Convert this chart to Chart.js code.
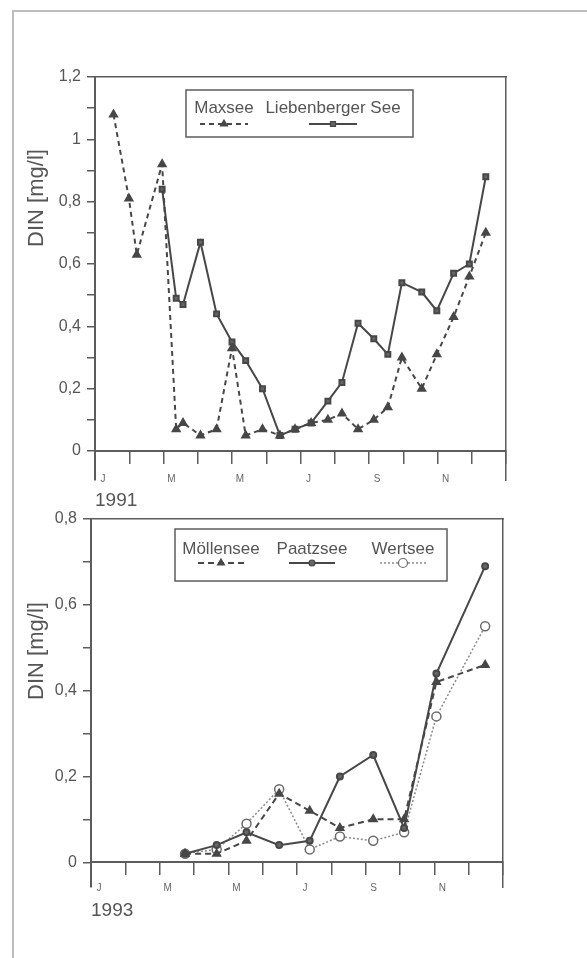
<!DOCTYPE html>
<html>
<head>
<meta charset="utf-8">
<script src="https://cdn.jsdelivr.net/npm/chart.js@4.4.1/dist/chart.umd.min.js"></script>
<style>
    body { margin: 0; background: #fff; }
    #page { position: relative; width: 587px; height: 958px; overflow: hidden; }
    #frame { position: absolute; left: 12px; top: 10px; width: 600px; height: 960px;
             border-top: 2px solid #bdbdbd; border-left: 2px solid #bdbdbd; }
    canvas { position: absolute; left: 0; }
    #chart1991 { top: 0; }
    #chart1993 { top: 500px; }
</style>
</head>
<body>
<div id="page">
    <div id="frame"></div>
    <canvas id="chart1991" width="587" height="520"></canvas>
    <canvas id="chart1993" width="587" height="430"></canvas>
</div>
<script>
// sampling dates as month position (0 = 1 Jan, 12 = 31 Dec)
const dates1991 = [0.54, 0.99, 1.22, 1.96, 2.37, 2.57, 3.08, 3.55, 4.0, 4.4, 4.89, 5.4, 5.84,
    6.31, 6.8, 7.21, 7.68, 8.14, 8.55, 8.96, 9.54, 9.98, 10.47, 10.93, 11.41];
const maxsee = [1.08, 0.81, 0.63, 0.92, 0.07, 0.09, 0.05, 0.07, 0.33, 0.05, 0.07, 0.05, 0.07,
    0.09, 0.10, 0.12, 0.07, 0.10, 0.14, 0.30, 0.20, 0.31, 0.43, 0.56, 0.70];
const liebenberger = [null, null, null, 0.84, 0.49, 0.47, 0.67, 0.44, 0.35, 0.29, 0.20, 0.05, 0.07,
    0.09, 0.16, 0.22, 0.41, 0.36, 0.31, 0.54, 0.51, 0.45, 0.57, 0.60, 0.88];

const dates1993 = [2.74, 3.66, 4.53, 5.48, 6.37, 7.25, 8.22, 9.12, 10.06, 11.48];
const moellensee = [0.02, 0.02, 0.05, 0.16, 0.12, 0.08, 0.10, 0.10, 0.42, 0.46];
const paatzsee = [0.02, 0.04, 0.07, 0.04, 0.05, 0.20, 0.25, 0.08, 0.44, 0.69];
const wertsee = [0.02, 0.03, 0.09, 0.17, 0.03, 0.06, 0.05, 0.07, 0.34, 0.55];

const monthTicks = [0, 1, 2, 3, 4, 5, 6, 7, 8, 9, 10, 11, 12];
const monthLabels = ['J', '', 'M', '', 'M', '', 'J', '', 'S', '', 'N', '', ''];

const yTicks1991 = [0, 0.1, 0.2, 0.3, 0.4, 0.5, 0.6, 0.7, 0.8, 0.9, 1.0, 1.1, 1.2];
const yLabels1991 = ['0', '', '0,2', '', '0,4', '', '0,6', '', '0,8', '', '1', '', '1,2'];
const yTicks1993 = [0, 0.1, 0.2, 0.3, 0.4, 0.5, 0.6, 0.7, 0.8];
const yLabels1993 = ['0', '', '0,2', '', '0,4', '', '0,6', '', '0,8'];

const ink = '#474747';
const axisInk = '#5c5c5c';
const textInk = '#555';

Chart.defaults.font.family = '"Liberation Sans", Arial, sans-serif';
Chart.defaults.color = textInk;

function toPoints(xs, ys) {
    return xs.map((x, i) => ({ x: x, y: ys[i] }));
}

// legend with the name on top and the line sample underneath
const stackedLegend = {
    id: 'stackedLegend',
    afterDraw(chart, args, opts) {
        const ctx = chart.ctx;
        ctx.save();
        ctx.strokeStyle = axisInk;
        ctx.lineWidth = 1.5;
        ctx.strokeRect(opts.box[0], opts.box[1], opts.box[2], opts.box[3]);
        ctx.font = '17px "Liberation Sans", Arial, sans-serif';
        ctx.textAlign = 'center';
        ctx.textBaseline = 'middle';
        chart.data.datasets.forEach((ds, i) => {
            const cx = opts.centers[i];
            ctx.fillStyle = textInk;
            ctx.fillText(ds.label, cx, opts.textY);
            ctx.strokeStyle = ds.borderColor;
            ctx.lineWidth = ds.borderWidth;
            ctx.setLineDash(ds.borderDash || []);
            ctx.beginPath();
            ctx.moveTo(cx - opts.half, opts.lineY);
            ctx.lineTo(cx + opts.half, opts.lineY);
            ctx.stroke();
            ctx.setLineDash([]);
            ctx.fillStyle = ds.pointBackgroundColor;
            ctx.strokeStyle = ds.pointBorderColor;
            ctx.lineWidth = 1.2;
            Chart.helpers.drawPoint(ctx, {
                pointStyle: ds.pointStyle, radius: ds.pointRadius, rotation: 0, borderWidth: 1.2
            }, cx, opts.lineY);
        });
        ctx.restore();
    }
};

// rotated axis caption
const axisCaption = {
    id: 'axisCaption',
    afterDraw(chart, args, opts) {
        const ctx = chart.ctx;
        ctx.save();
        ctx.translate(opts.x, opts.y);
        ctx.rotate(-Math.PI / 2);
        ctx.font = '22px "Liberation Sans", Arial, sans-serif';
        ctx.fillStyle = textInk;
        ctx.textAlign = 'center';
        ctx.textBaseline = 'middle';
        ctx.fillText(opts.text, 0, 0);
        ctx.restore();
    }
};

function buildScales(yMin, yMax, yTicks, yLabels, axisWidth, year, titlePad, labelPad) {
    return {
        x: {
            type: 'linear', axis: 'x', min: 0, max: 12, position: { y: 0 },
            afterBuildTicks: s => { s.ticks = monthTicks.map(v => ({ value: v })); },
            ticks: {
                autoSkip: false, maxRotation: 0, labelOffset: 8, padding: labelPad,
                font: { size: 10 }, color: '#666',
                callback: (v, i) => monthLabels[i]
            },
            grid: { drawOnChartArea: false, tickLength: 12, color: axisInk, lineWidth: 1.5 },
            border: { color: axisInk, width: 2 },
            title: {
                display: true, text: year, align: 'start', color: textInk,
                font: { size: 19, lineHeight: 0.6 }, padding: { top: titlePad, bottom: 0 }
            }
        },
        x2: {
            type: 'linear', axis: 'x', position: 'top', min: 0, max: 12, display: true,
            afterFit: s => { s.height = 0; },
            ticks: { display: false },
            grid: { display: false, drawTicks: false },
            border: { color: axisInk, width: 1.5 }
        },
        y: {
            type: 'linear', min: yMin, max: yMax,
            afterBuildTicks: s => { s.ticks = yTicks.map(v => ({ value: v })); },
            afterFit: s => { s.width = axisWidth; },
            ticks: {
                padding: 6, font: { size: 16 }, color: textInk,
                callback: (v, i) => yLabels[i]
            },
            grid: { drawOnChartArea: false, tickLength: 8, color: axisInk, lineWidth: 1.5 },
            border: { color: axisInk, width: 2 }
        },
        y2: {
            type: 'linear', axis: 'y', position: 'right', min: yMin, max: yMax, display: true,
            afterFit: s => { s.width = 0; },
            ticks: { display: false },
            grid: { display: false, drawTicks: false },
            border: { color: axisInk, width: 1.5 }
        }
    };
}

new Chart(document.getElementById('chart1991'), {
    type: 'line',
    data: {
        datasets: [{
            label: 'Maxsee',
            data: toPoints(dates1991, maxsee),
            borderColor: ink,
            borderWidth: 2,
            borderDash: [5, 4],
            pointStyle: 'triangle',
            pointRadius: 4,
            pointBackgroundColor: ink,
            pointBorderColor: ink
        }, {
            label: 'Liebenberger See',
            data: toPoints(dates1991, liebenberger),
            borderColor: ink,
            borderWidth: 2,
            pointStyle: 'rect',
            pointRadius: 3.5,
            pointBackgroundColor: '#666',
            pointBorderColor: ink
        }]
    },
    options: {
        responsive: false,
        animation: false,
        events: [],
        layout: { padding: { left: 0, right: 81, top: 77, bottom: 40 } },
        scales: buildScales(-0.0931, 1.2, yTicks1991, yLabels1991, 95, '1991', 0, 10),
        plugins: {
            legend: { display: false },
            tooltip: { enabled: false },
            stackedLegend: { box: [186, 90, 227, 47], centers: [224, 333], textY: 108, lineY: 124, half: 24 },
            axisCaption: { text: 'DIN [mg/l]', x: 37, y: 198 }
        }
    },
    plugins: [stackedLegend, axisCaption]
});

new Chart(document.getElementById('chart1993'), {
    type: 'line',
    data: {
        datasets: [{
            label: 'Möllensee',
            data: toPoints(dates1993, moellensee),
            borderColor: ink,
            borderWidth: 2,
            borderDash: [6, 4],
            pointStyle: 'triangle',
            pointRadius: 4,
            pointBackgroundColor: ink,
            pointBorderColor: ink
        }, {
            label: 'Paatzsee',
            data: toPoints(dates1993, paatzsee),
            borderColor: ink,
            borderWidth: 2,
            pointStyle: 'circle',
            pointRadius: 3,
            pointBackgroundColor: '#666',
            pointBorderColor: ink
        }, {
            label: 'Wertsee',
            data: toPoints(dates1993, wertsee),
            borderColor: '#8a8a8a',
            borderWidth: 1.5,
            borderDash: [2, 2],
            pointStyle: 'circle',
            pointRadius: 4.5,
            pointBackgroundColor: '#fff',
            pointBorderColor: '#6a6a6a'
        }]
    },
    options: {
        responsive: false,
        animation: false,
        events: [],
        layout: { padding: { left: 0, right: 84, top: 19, bottom: 43 } },
        scales: buildScales(-0.0576, 0.8, yTicks1993, yLabels1993, 91, '1993', 3, 8),
        plugins: {
            legend: { display: false },
            tooltip: { enabled: false },
            stackedLegend: { box: [175, 29, 272, 52], centers: [221, 312, 403], textY: 49, lineY: 63, half: 23 },
            axisCaption: { text: 'DIN [mg/l]', x: 37, y: 151 }
        }
    },
    plugins: [stackedLegend, axisCaption]
});
</script>
</body>
</html>
